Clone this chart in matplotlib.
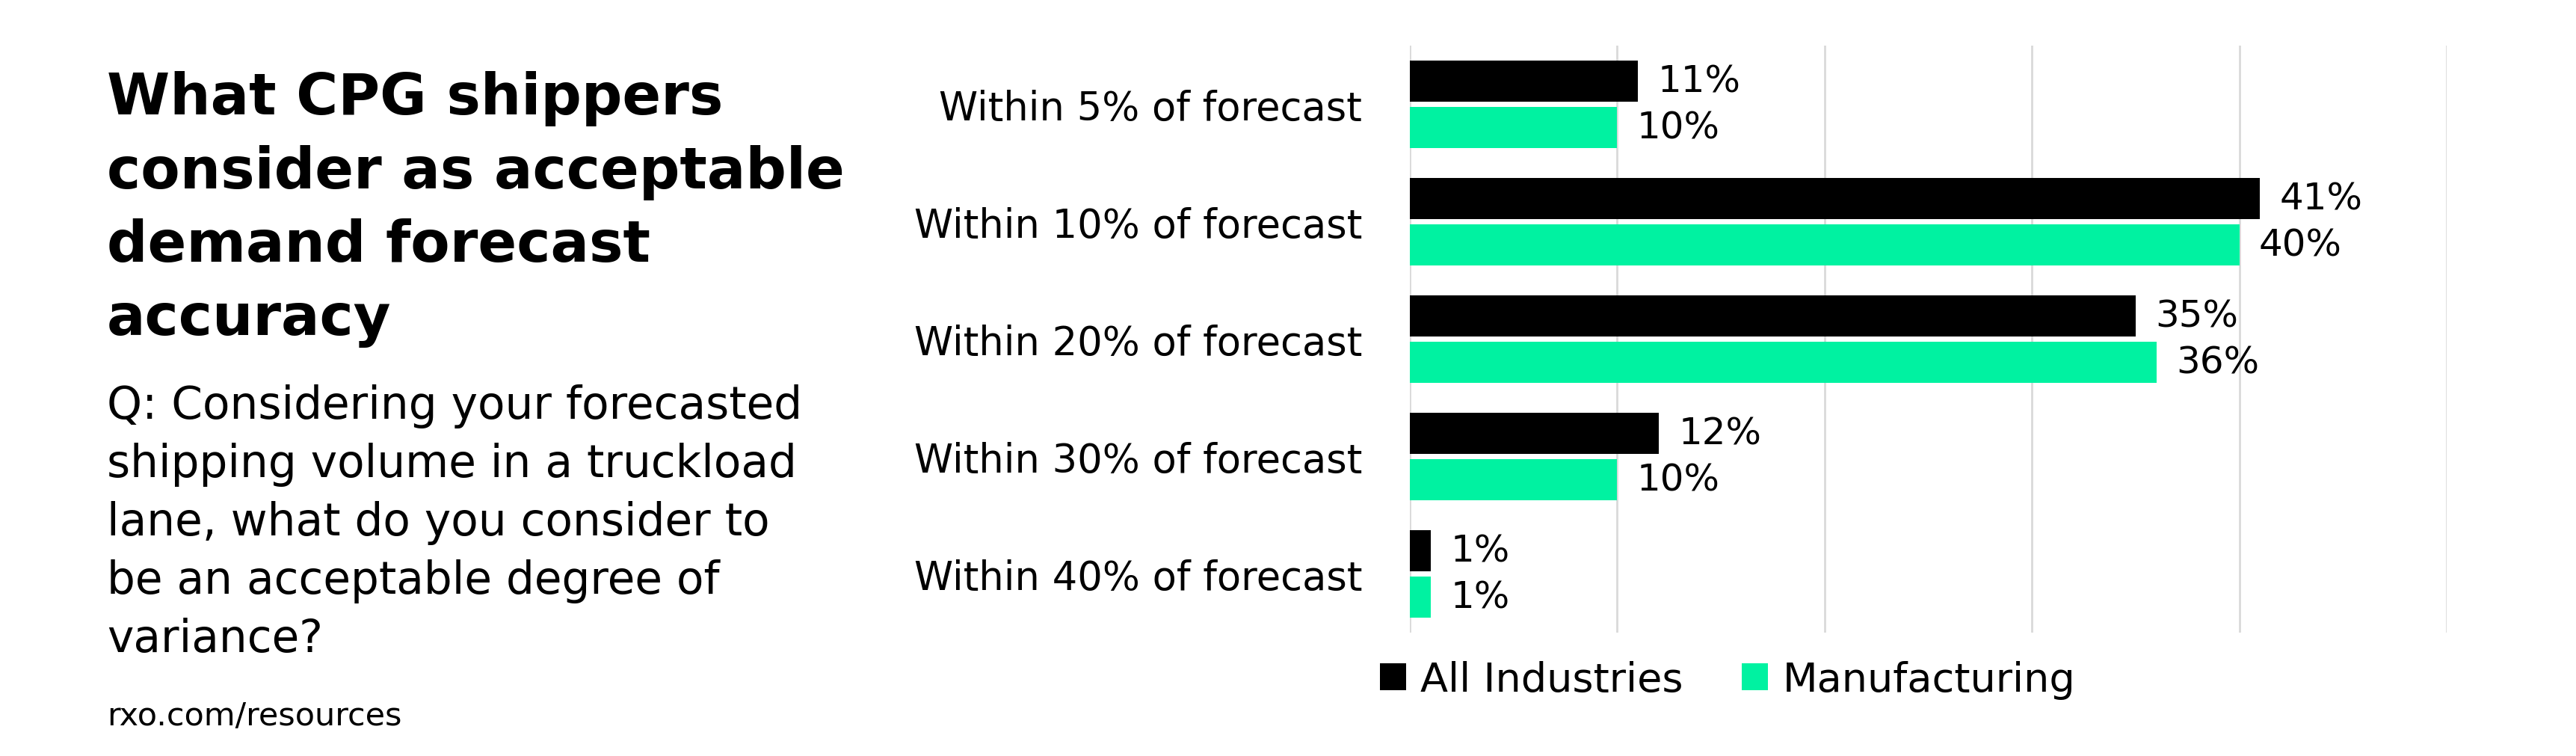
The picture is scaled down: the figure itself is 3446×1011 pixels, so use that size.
import matplotlib
matplotlib.use("Agg")
import matplotlib.pyplot as plt
from matplotlib.patches import Patch
import numpy as np

categories = ["Within 5% of forecast", "Within 10% of forecast", "Within 20% of forecast",
              "Within 30% of forecast", "Within 40% of forecast"]
all_industries = [11, 41, 35, 12, 1]
manufacturing = [10, 40, 36, 10, 1]
series_names = ["All Industries", "Manufacturing"]
title_lines = ["What CPG shippers", "consider as acceptable", "demand forecast", "accuracy"]
question_lines = ["Q: Considering your forecasted", "shipping volume in a truckload",
                  "lane, what do you consider to", "be an acceptable degree of", "variance?"]
source = "rxo.com/resources"

BLACK = "#000000"
GREEN = "#00F2A1"
GRID = "#D9D9D9"
FONT = "DejaVu Sans"

W, H = 3446, 1012
fig = plt.figure(figsize=(W / 100, H / 100), dpi=100)
fig.patch.set_facecolor("white")

def fx(px):
    return px / W

def fy(py):
    return 1 - py / H

# Left text block
for i, line in enumerate(title_lines):
    fig.text(fx(143), fy(153 + i * 98.5), line, fontsize=55, fontweight="bold",
             family=FONT, va="baseline", ha="left", color="black")
for i, line in enumerate(question_lines):
    fig.text(fx(143), fy(560 + i * 78), line, fontsize=43, fontweight="normal",
             family=FONT, va="baseline", ha="left", color="black")
fig.text(fx(143), fy(970), source, fontsize=31, fontweight="normal", family=FONT,
         va="baseline", ha="left", color="black")

# Chart
ax = fig.add_axes([fx(1886), fy(847), fx(3273) - fx(1886), (847 - 62) / H])
y = np.arange(len(categories))
h = 0.35
b1 = ax.barh(y - 0.2, all_industries, height=h, color=BLACK, zorder=3)
b2 = ax.barh(y + 0.2, manufacturing, height=h, color=GREEN, zorder=3)
ax.set_xlim(0, 50)
ax.set_ylim(len(categories) - 0.5, -0.5)
ax.set_xticks(np.arange(0, 51, 10))
ax.xaxis.grid(True, color=GRID, linewidth=2, zorder=0)
ax.tick_params(axis="x", length=0, labelbottom=False)
ax.set_yticks(y)
ax.set_yticklabels(categories, family=FONT, fontweight="normal", fontsize=38)
ax.tick_params(axis="y", length=0, pad=46)
for s in ax.spines.values():
    s.set_visible(False)
for bars, vals in ((b1, all_industries), (b2, manufacturing)):
    ax.bar_label(bars, labels=[f"{v}%" for v in vals], padding=19, family=FONT,
                 fontweight="normal", fontsize=36, color="black")

handles = [Patch(facecolor=BLACK), Patch(facecolor=GREEN)]
fig.legend(handles, series_names, loc="center left", bbox_to_anchor=(fx(1846), fy(910)),
           ncol=2, frameon=False, handlelength=0.65, handleheight=0.65, handletextpad=0.35,
           columnspacing=1.45, borderpad=0, borderaxespad=0,
           prop={"family": FONT, "weight": "normal", "size": 39})

fig.savefig("out.png", dpi=100, facecolor="white")
